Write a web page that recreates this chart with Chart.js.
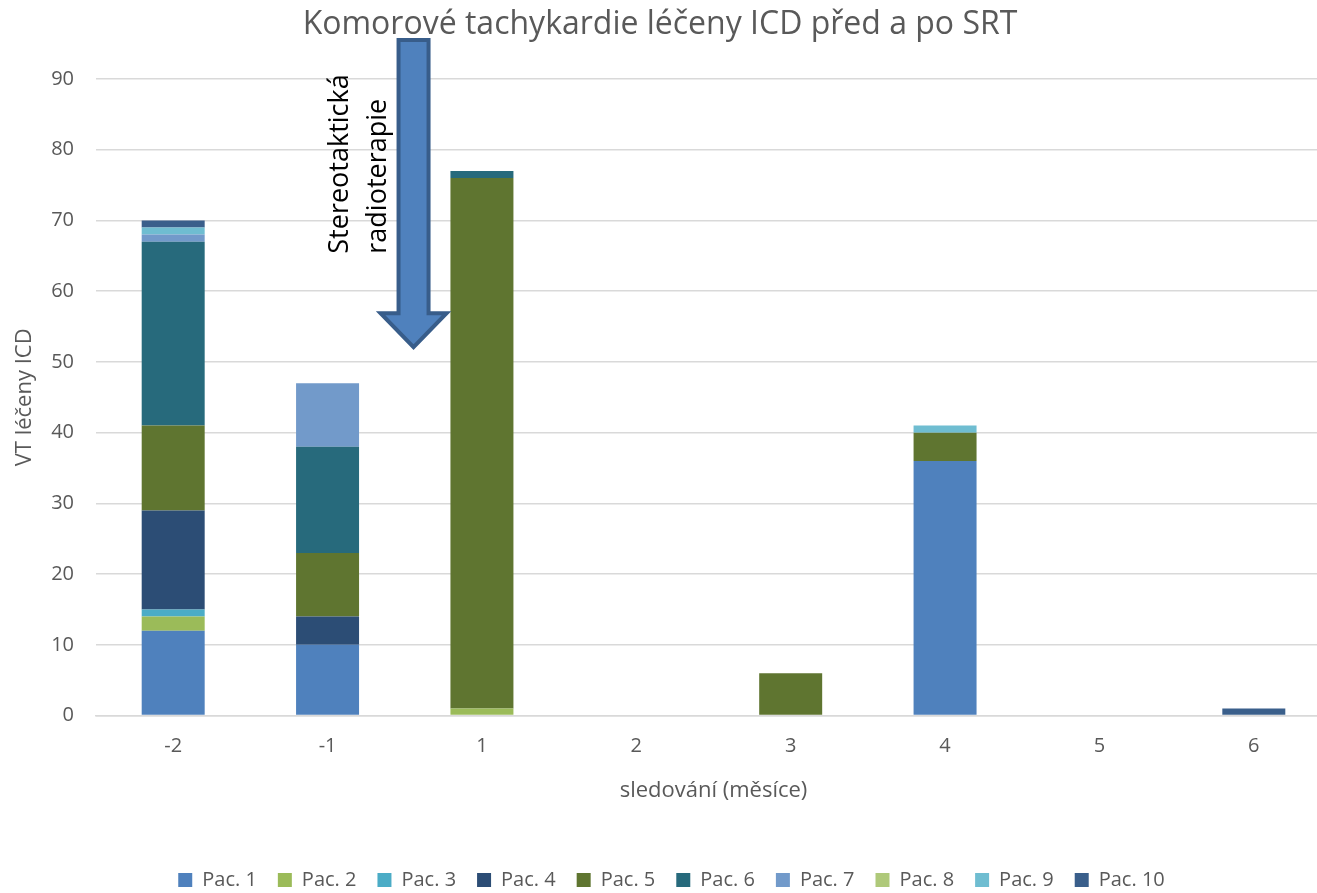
<!DOCTYPE html>
<html>
<head>
<meta charset="utf-8">
<script src="https://cdn.jsdelivr.net/npm/chart.js@4"></script>
<style>
  html, body { margin: 0; padding: 0; background: #fff; overflow: hidden; }
  #wrap { width: 1336px; height: 900px; }
</style>
</head>
<body>
<div id="wrap"><canvas id="myChart"></canvas></div>
<script>
var months = ["-2", "-1", "1", "2", "3", "4", "5", "6"];
var pac1  = [12, 10, 0, 0, 0, 36, 0, 0];
var pac2  = [2, 0, 1, 0, 0, 0, 0, 0];
var pac3  = [1, 0, 0, 0, 0, 0, 0, 0];
var pac4  = [14, 4, 0, 0, 0, 0, 0, 0];
var pac5  = [12, 9, 75, 0, 6, 4, 0, 0];
var pac6  = [26, 15, 1, 0, 0, 0, 0, 0];
var pac7  = [1, 9, 0, 0, 0, 0, 0, 0];
var pac8  = [0, 0, 0, 0, 0, 0, 0, 0];
var pac9  = [1, 0, 0, 0, 0, 1, 0, 0];
var pac10 = [1, 0, 0, 0, 0, 0, 0, 1];

var seriesNames = ["Pac. 1", "Pac. 2", "Pac. 3", "Pac. 4", "Pac. 5", "Pac. 6", "Pac. 7", "Pac. 8", "Pac. 9", "Pac. 10"];
var seriesData = [pac1, pac2, pac3, pac4, pac5, pac6, pac7, pac8, pac9, pac10];
var colors = ["#4f81bd", "#9bbb59", "#4bacc6", "#2c4d75", "#5f7530", "#276a7c", "#729aca", "#afc97a", "#6fbdd1", "#3a5f8b"];

var gray = "#595959";
var fontFam = "'Open Sans', sans-serif";

// arrow "Stereotaktická radioterapie" between -1 and 1, plus the title
var arrowPlugin = {
  id: "arrow",
  afterDatasetsDraw: function(chart) {
    var ctx = chart.ctx;
    var x = chart.scales.x, y = chart.scales.y;
    var cx = x.getPixelForValue(1.557);
    var top = y.getPixelForValue(95.5);
    var headTop = y.getPixelForValue(56.9);
    var tip = y.getPixelForValue(52.1);
    var sw = 15, hw = 33;
    ctx.save();
    ctx.beginPath();
    ctx.moveTo(cx - sw, top);
    ctx.lineTo(cx + sw, top);
    ctx.lineTo(cx + sw, headTop);
    ctx.lineTo(cx + hw, headTop);
    ctx.lineTo(cx, tip);
    ctx.lineTo(cx - hw, headTop);
    ctx.lineTo(cx - sw, headTop);
    ctx.closePath();
    ctx.fillStyle = "#4f81bd";
    ctx.fill();
    ctx.lineWidth = 4;
    ctx.strokeStyle = "#385d8a";
    ctx.stroke();

    ctx.fillStyle = "#000";
    ctx.font = "27px " + fontFam;
    ctx.textAlign = "left";
    ctx.textBaseline = "middle";
    var bottom = y.getPixelForValue(65.3);
    ctx.translate(cx - 73, bottom);
    ctx.rotate(-Math.PI / 2);
    ctx.fillText("Stereotaktická", 0, 0);
    ctx.fillText("radioterapie", 0, 38);
    ctx.restore();

    ctx.save();
    ctx.fillStyle = gray;
    ctx.font = "32px " + fontFam;
    ctx.textAlign = "center";
    ctx.textBaseline = "middle";
    ctx.fillText("Komorové tachykardie léčeny ICD před a po SRT", 660, 25);
    ctx.restore();
  }
};

var myChart = new Chart("myChart", {
  type: "bar",
  data: {
    labels: months,
    datasets: seriesNames.map(function(n, i) {
      return {
        label: n,
        data: seriesData[i],
        backgroundColor: colors[i],
        borderWidth: 0,
        barPercentage: 1,
        categoryPercentage: 0.408
      };
    })
  },
  options: {
    responsive: true,
    maintainAspectRatio: false,
    animation: false,
    layout: { padding: { top: 79, right: 5, left: 12, bottom: 0 } },
    plugins: {
      legend: {
        position: "bottom",
        labels: {
          boxWidth: 14,
          boxHeight: 14,
          color: gray,
          font: { family: fontFam, size: 20 },
          padding: 21
        }
      },
      tooltip: { enabled: false }
    },
    scales: {
      x: {
        stacked: true,
        grid: { display: false, drawTicks: false },
        border: { display: true, color: "#d9d9d9", width: 1.5 },
        ticks: { color: gray, font: { family: fontFam, size: 20 }, padding: 19 },
        title: { display: true, text: "sledování (měsíce)", color: gray, font: { family: fontFam, size: 22 }, padding: { top: 0, bottom: 45 } }
      },
      y: {
        stacked: true,
        min: 0,
        max: 90,
        afterFit: function(scale) { scale.width = 84; },
        ticks: { stepSize: 10, color: gray, font: { family: fontFam, size: 20 }, padding: 22 },
        grid: { color: "#d9d9d9", lineWidth: 1.5, drawTicks: false },
        border: { display: false },
        title: { display: true, text: "VT léčeny ICD", color: gray, font: { family: fontFam, size: 22 }, padding: { top: 0, bottom: 12 } }
      }
    }
  },
  plugins: [arrowPlugin]
});
</script>
</body>
</html>
